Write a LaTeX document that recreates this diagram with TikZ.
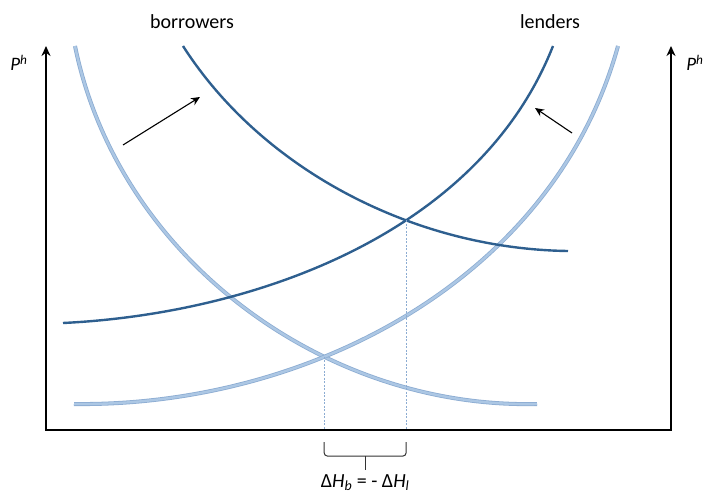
\documentclass[tikz,border=0pt]{standalone}
\usepackage{fontspec}
\setmainfont{Carlito}
\usetikzlibrary{arrows.meta, intersections, positioning, calc}
\definecolor{darkcurve}{RGB}{46,95,143}
\definecolor{lightcurve}{RGB}{172,199,228}
\definecolor{lightedge}{RGB}{140,172,210}
\tikzset{
    axis/.style={line width=2.8pt, line join=miter, {Stealth[length=10pt,width=9pt]}-{Stealth[length=10pt,width=9pt]}},
    oldcurve/.style={line width=0.8pt, draw=lightedge, double=lightcurve, double distance=2.4pt},
    newcurve/.style={line width=2.4pt, draw=darkcurve},
    guide/.style={draw=lightedge, line width=1pt, dash pattern=on 2pt off 1.5pt},
    shiftarrow/.style={line width=1.1pt, -{Stealth[length=9pt,width=8pt]}},
    brace/.style={line width=1pt, draw=black!80, rounded corners=3pt},
    lab/.style={font=\fontsize{20}{22}\selectfont},
    plab/.style={font=\fontsize{19}{21}\selectfont\itshape}
}

\begin{document}
\begin{tikzpicture}[x=1pt, y=-1pt]
    \useasboundingbox (0,0) rectangle (704,502);

    % axes
    \coordinate (ytopL) at (46,46);
    \coordinate (o) at (46,430);
    \coordinate (xend) at (671,430);
    \coordinate (ytopR) at (671,46);
    \draw [axis] (ytopL) -- (o) -- (xend) -- (ytopR);
    \node (pL) [plab] at (19,63) {P\textsuperscript{h}};
    \node (pR) [plab] at (695,63) {P\textsuperscript{h}};

    \node (borrowers) [lab] at (192,22) {borrowers};
    \node (lenders) [lab] at (550,22) {lenders};

    % old curves
    \draw [oldcurve, name path=oldB] (75,46) .. controls (118,257) and (323,409) .. (537,404);
    \draw [oldcurve, name path=oldL] (74,404) .. controls (306,407) and (553,281) .. (618,46);

    % new curves
    \draw [newcurve, name path=newB] (183,46) .. controls (263,171) and (416,249) .. (568,251);
    \draw [newcurve, name path=newL] (63,323) .. controls (250,314) and (478,236) .. (553,46);

    \path [name intersections={of=oldB and oldL, by=eqold}];
    \path [name intersections={of=newB and newL, by=eqnew}];
    \draw [guide] (eqold) -- (eqold |- o);
    \draw [guide] (eqnew) -- (eqnew |- o);

    % shifts
    \coordinate (bfrom) at (123,145);
    \coordinate (bto) at (200,97);
    \coordinate (lfrom) at (572,133);
    \coordinate (lto) at (535,108);
    \draw [shiftarrow] (bfrom) -- (bto);
    \draw [shiftarrow] (lfrom) -- (lto);

    % brace
    \coordinate (bl) at ($(eqold |- o)+(0,12)$);
    \coordinate (br) at ($(eqnew |- o)+(0,12)$);
    \coordinate (tick) at ($(bl)!0.5!(br)+(0,14)$);
    \draw [brace] (bl) |- ($(br)+(0,14)$) -- (br);
    \draw [brace] (tick) -- ++(0,14) coordinate (tickend);
    \node (delta) [lab, below=1pt of tickend] {Δ\textit{H}\textsubscript{\textit{b}} = - Δ\textit{H}\textsubscript{\textit{l}}};
\end{tikzpicture}
\end{document}
